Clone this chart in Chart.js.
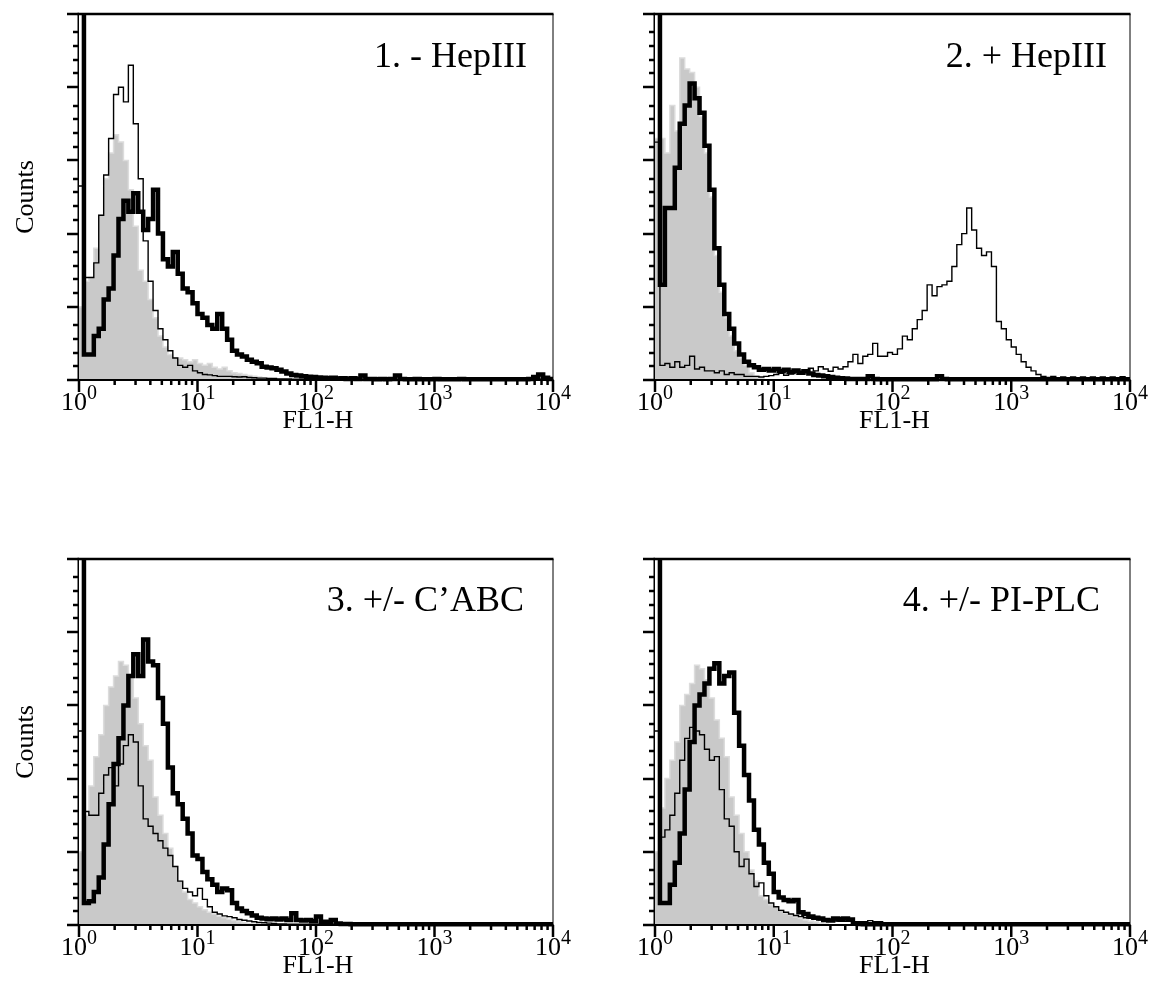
<!DOCTYPE html>
<html><head><meta charset="utf-8">
<script src="https://cdn.jsdelivr.net/npm/chart.js@4.4.1/dist/chart.umd.min.js"></script>
<style>
html,body{margin:0;padding:0;background:#fff;}
#wrap{position:relative;width:1152px;height:999px;overflow:hidden;background:#fff;}
canvas{position:absolute;}
</style></head><body><div id="wrap">
<canvas id="c1" width="576" height="480" style="left:0px;top:0px"></canvas>
<canvas id="c2" width="576" height="480" style="left:576px;top:0px"></canvas>
<canvas id="c3" width="576" height="519" style="left:0px;top:480px"></canvas>
<canvas id="c4" width="576" height="519" style="left:576px;top:480px"></canvas>
</div>
<script>
// FL1-H channel grid: 24 log bins per decade, 10^0 .. 10^4
const channels = Array.from({length: 97}, (_, i) => Math.pow(10, i / 24));

// Panel titles and tick labels
const panelTitles = ['1. - HepIII', '2. + HepIII', '3. +/- C\u2019ABC', '4. +/- PI-PLC'];
const xDecades = [1, 10, 100, 1000, 10000];
const xExponents = ['0', '1', '2', '3', '4'];
const xMinorMultipliers = [2, 3, 4, 5, 6, 7, 8, 9];
const yMajor = [0, 20, 40, 60, 80, 100];
const yMinorOffsets = [3.75, 7.5, 11.25, 15];

// Panel 1
const p1Thick = [
130, 7, 7, 12, 14, 22, 25, 34, 44, 49,
46, 51, 46, 41, 44, 52, 40, 33, 31, 35,
29, 25, 24, 21, 18, 17, 15, 14, 18, 14,
11, 8, 7, 6.4, 5.5, 5, 4.6, 3.6, 3.4, 3.2,
2.8, 2.3, 1.8, 1.4, 1.2, 1, 0.9, 0.8, 0.7, 0.6,
0.5, 0.6, 0.4, 0.5, 0.3, 0.5, 0.3, 1.2, 0.3, 0.3,
0.2, 0.3, 0.2, 0.3, 1.2, 0.3, 0.2, 0.2, 0.3, 0.2,
0.2, 0.2, 0.3, 0.2, 0.2, 0.2, 0.2, 0.3, 0.2, 0.2,
0.2, 0.2, 0.2, 0.2, 0.2, 0.2, 0.2, 0.2, 0.2, 0.2,
0.2, 0.3, 0.8, 1.5, 0.6, 0.3, 0.8];
const p1Thin = [
53, 28, 28, 32, 45, 56, 66, 78, 80, 76,
86, 70, 55, 38, 27, 19, 14, 11, 8, 6,
4, 3.5, 4, 2.5, 2, 1.5, 1.4, 1.2, 1, 1,
1, 0.9, 0.8, 0.9, 0.7, 0.6, 0.5, 0.5, 0.4, 0.4,
0.3, 0.3, 0.3, 0.2, 0.2, 0.2, 0.2, 0.2, 0.2, 0.2,
0.2, 0.2, 0.2, 0.2, 0.2, 0.2, 0.2, 0.2, 0.2, 0.2,
0.2, 0.2, 0.2, 0.2, 0.2, 0.2, 0.2, 0.2, 0.2, 0.2,
0.2, 0.2, 0.2, 0.2, 0.2, 0.2, 0.2, 0.2, 0.2, 0.2,
0.2, 0.2, 0.2, 0.2, 0.2, 0.2, 0.2, 0.2, 0.2, 0.2,
0.2, 0.2, 0.2, 0.2, 0.2, 0.2, 0.2];
const p1Gray = [
20, 27, 28, 36, 45, 55, 62, 67, 65, 60,
52, 42, 30, 27, 22, 17, 12, 9, 7, 6,
6, 5.5, 5, 5.5, 4.5, 4, 4.5, 3.5, 3, 3.5,
2.5, 2, 1.8, 1.5, 1.2, 1, 0.8, 0.6, 0.4, 0.3,
0.2, 0.2, 0.1, 0.1, 0, 0, 0, 0, 0, 0,
0, 0, 0, 0, 0, 0, 0, 0, 0, 0,
0, 0, 0, 0, 0, 0, 0, 0, 0, 0,
0, 0, 0, 0, 0, 0, 0, 0, 0, 0,
0, 0, 0, 0, 0, 0, 0, 0, 0, 0,
0, 0, 0, 0, 0, 0, 0];

// Panel 2
const p2Thick = [
130, 26, 47, 47, 58, 70, 75, 81, 77, 73,
64, 52, 36, 26, 18, 14, 10, 7, 5, 4,
3.5, 2.8, 3, 2.6, 3, 2.4, 2.8, 2.2, 2.6, 2,
2.4, 1.8, 1.4, 1.2, 1, 0.8, 0.6, 0.5, 0.4, 0.3,
0.3, 0.3, 0.3, 1, 0.3, 0.2, 0.2, 0.2, 0.2, 0.2,
0.2, 0.2, 0.2, 0.2, 0.2, 0.2, 0.2, 1, 0.3, 0.2,
0.2, 0.2, 0.2, 0.2, 0.2, 0.2, 0.2, 0.2, 0.2, 0.2,
0.2, 0.2, 0.2, 0.2, 0.2, 0.2, 0.2, 0.2, 0.2, 0.2,
0.2, 0.2, 0.2, 0.2, 0.2, 0.2, 0.2, 0.2, 0.2, 0.2,
0.2, 0.2, 0.2, 0.2, 0.2, 0.2, 0.2];
const p2Thin = [
65, 4, 4.5, 3.5, 5, 3.5, 4, 6.5, 3, 3.5,
2.5, 2.5, 2, 2.5, 1.5, 2, 1.5, 1.5, 1, 1,
1, 0.8, 1, 1.2, 1.5, 1.8, 1.3, 1.6, 2.2, 2,
2.8, 3.2, 2.5, 3.6, 3, 2.4, 3.5, 3, 3.6, 5,
7, 4.5, 6.5, 7, 10, 6.5, 6.5, 7.5, 7, 8.5,
12, 11, 14, 16.5, 19, 26, 23, 25.5, 26, 27,
31, 37, 40, 47, 41, 36, 34, 35, 31, 16,
14, 11, 9, 7, 5, 3.5, 2.5, 1.5, 1, 0.7,
1, 0.5, 0.8, 0.5, 0.8, 0.4, 0.8, 0.5, 0.8, 0.4,
0.8, 0.5, 0.8, 0.4, 0.9, 0.5, 0.8];
const p2Gray = [
66, 66, 62, 75, 68, 88, 85, 84, 80, 72,
62, 50, 34, 24, 17, 12, 8, 6, 4, 2,
1, 0.5, 0, 0, 0, 0, 0, 0, 0, 0,
0, 0, 0, 0, 0, 0, 0, 0, 0, 0,
0, 0, 0, 0, 0, 0, 0, 0, 0, 0,
0, 0, 0, 0, 0, 0, 0, 0, 0, 0,
0, 0, 0, 0, 0, 0, 0, 0, 0, 0,
0, 0, 0, 0, 0, 0, 0, 0, 0, 0,
0, 0, 0, 0, 0, 0, 0, 0, 0, 0,
0, 0, 0, 0, 0, 0, 0];

// Panel 3
const p3Thick = [
130, 6, 6.5, 9, 13, 22, 33, 44, 51, 60,
68, 74, 68, 78, 72, 71, 62, 55, 43, 36,
33, 29, 25, 19, 18, 14.5, 12.5, 11, 9, 10,
9.5, 6, 4.5, 3.8, 3.2, 2.6, 2, 1.8, 1.6, 1.8,
1.5, 1.8, 1.4, 3.2, 1.4, 1.2, 1.4, 1, 2.3, 0.9,
0.9, 1.4, 0.4, 0.3, 0.3, 0.2, 0.2, 0.2, 0.2, 0.2,
0.2, 0.2, 0.2, 0.2, 0.2, 0.2, 0.2, 0.2, 0.2, 0.2,
0.2, 0.2, 0.2, 0.2, 0.2, 0.2, 0.2, 0.2, 0.2, 0.2,
0.2, 0.2, 0.2, 0.2, 0.2, 0.2, 0.2, 0.2, 0.2, 0.2,
0.2, 0.2, 0.2, 0.2, 0.2, 0.2, 0.2];
const p3Thin = [
53, 31, 30, 30, 36, 41, 43, 38, 44, 49,
52, 50, 38, 29, 27, 25, 23, 21, 19, 16,
12, 10, 9, 8, 10, 7, 5, 3.5, 3, 2.5,
2.3, 2, 1.5, 1.3, 1.1, 0.9, 0.7, 0.6, 0.5, 0.4,
0.3, 0.3, 0.2, 0.2, 0.2, 0.2, 0.2, 0.2, 0.2, 0.2,
0.2, 0.2, 0.2, 0.2, 0.2, 0.2, 0.2, 0.2, 0.2, 0.2,
0.2, 0.2, 0.2, 0.2, 0.2, 0.2, 0.2, 0.2, 0.2, 0.2,
0.2, 0.2, 0.2, 0.2, 0.2, 0.2, 0.2, 0.2, 0.2, 0.2,
0.2, 0.2, 0.2, 0.2, 0.2, 0.2, 0.2, 0.2, 0.2, 0.2,
0.2, 0.2, 0.2, 0.2, 0.2, 0.2, 0.2];
const p3Gray = [
20, 30, 38, 46, 52, 60, 65, 68, 72, 71,
68, 62, 55, 49, 45, 35, 30, 25, 21, 16,
12, 9, 7, 6, 5, 4.2, 3.5, 3, 2.4, 2,
1.6, 1.2, 0.9, 0.6, 0.4, 0.3, 0, 0, 0, 0,
0, 0, 0, 0, 0, 0, 0, 0, 0, 0,
0, 0, 0, 0, 0, 0, 0, 0, 0, 0,
0, 0, 0, 0, 0, 0, 0, 0, 0, 0,
0, 0, 0, 0, 0, 0, 0, 0, 0, 0,
0, 0, 0, 0, 0, 0, 0, 0, 0, 0,
0, 0, 0, 0, 0, 0, 0];

// Panel 4
const p4Thick = [
130, 6, 6, 11, 17, 25, 37, 50, 60, 63,
66, 70, 71.5, 66, 68, 69, 58, 49, 41, 34,
26, 22, 17, 14, 9, 7.5, 6.8, 6.5, 6.8, 3.5,
3, 2.3, 2, 1.8, 1.4, 1.2, 1.8, 1.6, 1.8, 1.5,
0.5, 0.3, 0.2, 0.2, 0.2, 0.2, 0.2, 0.2, 0.2, 0.2,
0.2, 0.2, 0.2, 0.2, 0.2, 0.2, 0.2, 0.2, 0.2, 0.2,
0.2, 0.2, 0.2, 0.2, 0.2, 0.2, 0.2, 0.2, 0.2, 0.2,
0.2, 0.2, 0.2, 0.2, 0.2, 0.2, 0.2, 0.2, 0.2, 0.2,
0.2, 0.2, 0.2, 0.2, 0.2, 0.2, 0.2, 0.2, 0.2, 0.2,
0.2, 0.2, 0.2, 0.2, 0.2, 0.2, 0.2];
const p4Thin = [
53, 24, 26, 30, 36, 45, 51, 54, 53, 52,
48, 45, 46, 37, 29, 27, 20, 16, 18, 14,
10.5, 11.5, 8, 6, 5, 4, 3.5, 3, 2.6, 2.3,
2, 1.8, 1.6, 1.4, 1.3, 1.2, 1.1, 1, 1, 1,
0.9, 0.9, 0.9, 1.2, 0.9, 0.9, 0.2, 0.2, 0.2, 0.2,
0.2, 0.2, 0.2, 0.2, 0.2, 0.2, 0.2, 0.2, 0.2, 0.2,
0.2, 0.2, 0.2, 0.2, 0.2, 0.2, 0.2, 0.2, 0.2, 0.2,
0.2, 0.2, 0.2, 0.2, 0.2, 0.2, 0.2, 0.2, 0.2, 0.2,
0.2, 0.2, 0.2, 0.2, 0.2, 0.2, 0.2, 0.2, 0.2, 0.2,
0.2, 0.2, 0.2, 0.2, 0.2, 0.2, 0.2];
const p4Gray = [
20, 32, 40, 45, 50, 60, 63, 66, 71, 70,
67, 62, 56, 51, 46, 35, 30, 25, 20, 15,
12, 8, 7, 5.5, 5, 4, 3.2, 2.7, 2.2, 1.8,
1.4, 1, 0.8, 0.5, 0.3, 0, 0, 0, 0, 0,
0, 0, 0, 0, 0, 0, 0, 0, 0, 0,
0, 0, 0, 0, 0, 0, 0, 0, 0, 0,
0, 0, 0, 0, 0, 0, 0, 0, 0, 0,
0, 0, 0, 0, 0, 0, 0, 0, 0, 0,
0, 0, 0, 0, 0, 0, 0, 0, 0, 0,
0, 0, 0, 0, 0, 0, 0];

const SERIF = '"Liberation Serif", "Times New Roman", serif';

const decor = {
  id: 'decor',
  afterDraw(chart, args, o) {
    const ctx = chart.ctx, a = chart.chartArea, x = chart.scales.x, y = chart.scales.y;
    const line = (x1, y1, x2, y2) => { ctx.beginPath(); ctx.moveTo(x1, y1); ctx.lineTo(x2, y2); ctx.stroke(); };
    ctx.save();
    ctx.strokeStyle = '#000';
    ctx.lineCap = 'butt';
    // frame
    ctx.lineWidth = 2.5; line(a.left - 1.5, a.top, a.right + 0.5, a.top);
    ctx.lineWidth = 1;   line(a.right, a.top, a.right, a.bottom);
    ctx.lineWidth = 2;   line(a.left - 1.5, a.bottom, a.right + 0.5, a.bottom);
    ctx.lineWidth = 1.5; line(a.left - 0.75, a.top, a.left - 0.75, a.bottom + 1);
    // y ticks
    ctx.lineWidth = 2.5;
    yMajor.forEach(v => {
      const py = Math.round(y.getPixelForValue(v));
      line(a.left - 12, py, a.left, py);
      if (v < 100) yMinorOffsets.forEach(off => {
        const q = Math.round(y.getPixelForValue(v + off));
        line(a.left - 6, q, a.left, q);
      });
    });
    // x ticks
    xDecades.forEach((d, k) => {
      const px = x.getPixelForValue(d);
      line(px, a.bottom, px, a.bottom + 12);
      if (k < xDecades.length - 1) xMinorMultipliers.forEach(m => {
        const q = x.getPixelForValue(d * m);
        line(q, a.bottom, q, a.bottom + 5);
      });
    });
    // x tick labels 10^n
    ctx.fillStyle = '#000';
    ctx.textBaseline = 'alphabetic';
    ctx.textAlign = 'left';
    xDecades.forEach((d, k) => {
      const px = x.getPixelForValue(d);
      ctx.font = '26px ' + SERIF;
      const w1 = ctx.measureText('10').width;
      ctx.font = '20px ' + SERIF;
      const w2 = ctx.measureText(xExponents[k]).width;
      const start = px - (w1 + w2) / 2;
      ctx.font = '26px ' + SERIF;
      ctx.fillText('10', start, a.bottom + 30);
      ctx.font = '20px ' + SERIF;
      ctx.fillText(xExponents[k], start + w1, a.bottom + 19);
    });
    // axis title
    ctx.font = '26px ' + SERIF;
    ctx.textAlign = 'center';
    ctx.fillText('FL1-H', (a.left + a.right) / 2 + 2, a.bottom + 48);
    // y title
    if (o.counts) {
      ctx.save();
      ctx.translate(33, o.countsY);
      ctx.rotate(-Math.PI / 2);
      ctx.textAlign = 'center';
      ctx.fillText('Counts', 0, 0);
      ctx.restore();
    }
    // panel title
    ctx.font = '36px ' + SERIF;
    ctx.textAlign = 'right';
    ctx.fillText(o.title, o.titleRight, o.titleBase);
    ctx.restore();
  }
};

function series(arr, style) {
  return Object.assign({
    data: channels.map((c, i) => ({x: c, y: arr[i]})),
    stepped: 'before',
    pointRadius: 0,
    tension: 0,
    borderJoinStyle: 'miter',
    borderCapStyle: 'butt',
    clip: {left: 2, top: 0, right: 0, bottom: 3}
  }, style);
}

function makePanel(id, thick, thin, gray, pad, deco) {
  new Chart(document.getElementById(id), {
    type: 'line',
    data: {
      datasets: [
        series(thick, {borderColor: '#000', borderWidth: 4.5, fill: false}),
        series(thin, {borderColor: '#000', borderWidth: 1.4, fill: false}),
        series(gray, {borderColor: '#dcdcdc', borderWidth: 1.5, backgroundColor: '#c9c9c9', fill: 'origin'})
      ]
    },
    options: {
      responsive: false,
      animation: false,
      devicePixelRatio: 1,
      layout: {padding: pad},
      events: [],
      plugins: {legend: {display: false}, tooltip: {enabled: false}, title: {display: false}, decor: deco},
      scales: {
        x: {type: 'logarithmic', min: 1, max: 10000, display: false},
        y: {type: 'linear', min: 0, max: 100, display: false}
      }
    },
    plugins: [decor]
  });
}

makePanel('c1', p1Thick, p1Thin, p1Gray, {left: 79, top: 14, right: 23, bottom: 100},
  {title: panelTitles[0], titleRight: 527, titleBase: 67, counts: true, countsY: 197});
makePanel('c2', p2Thick, p2Thin, p2Gray, {left: 79, top: 14, right: 22, bottom: 100},
  {title: panelTitles[1], titleRight: 531, titleBase: 67, counts: false});
makePanel('c3', p3Thick, p3Thin, p3Gray, {left: 79, top: 79, right: 23, bottom: 74},
  {title: panelTitles[2], titleRight: 524, titleBase: 131, counts: true, countsY: 262});
makePanel('c4', p4Thick, p4Thin, p4Gray, {left: 79, top: 79, right: 22, bottom: 74},
  {title: panelTitles[3], titleRight: 524, titleBase: 131, counts: false});
</script>
</body></html>
